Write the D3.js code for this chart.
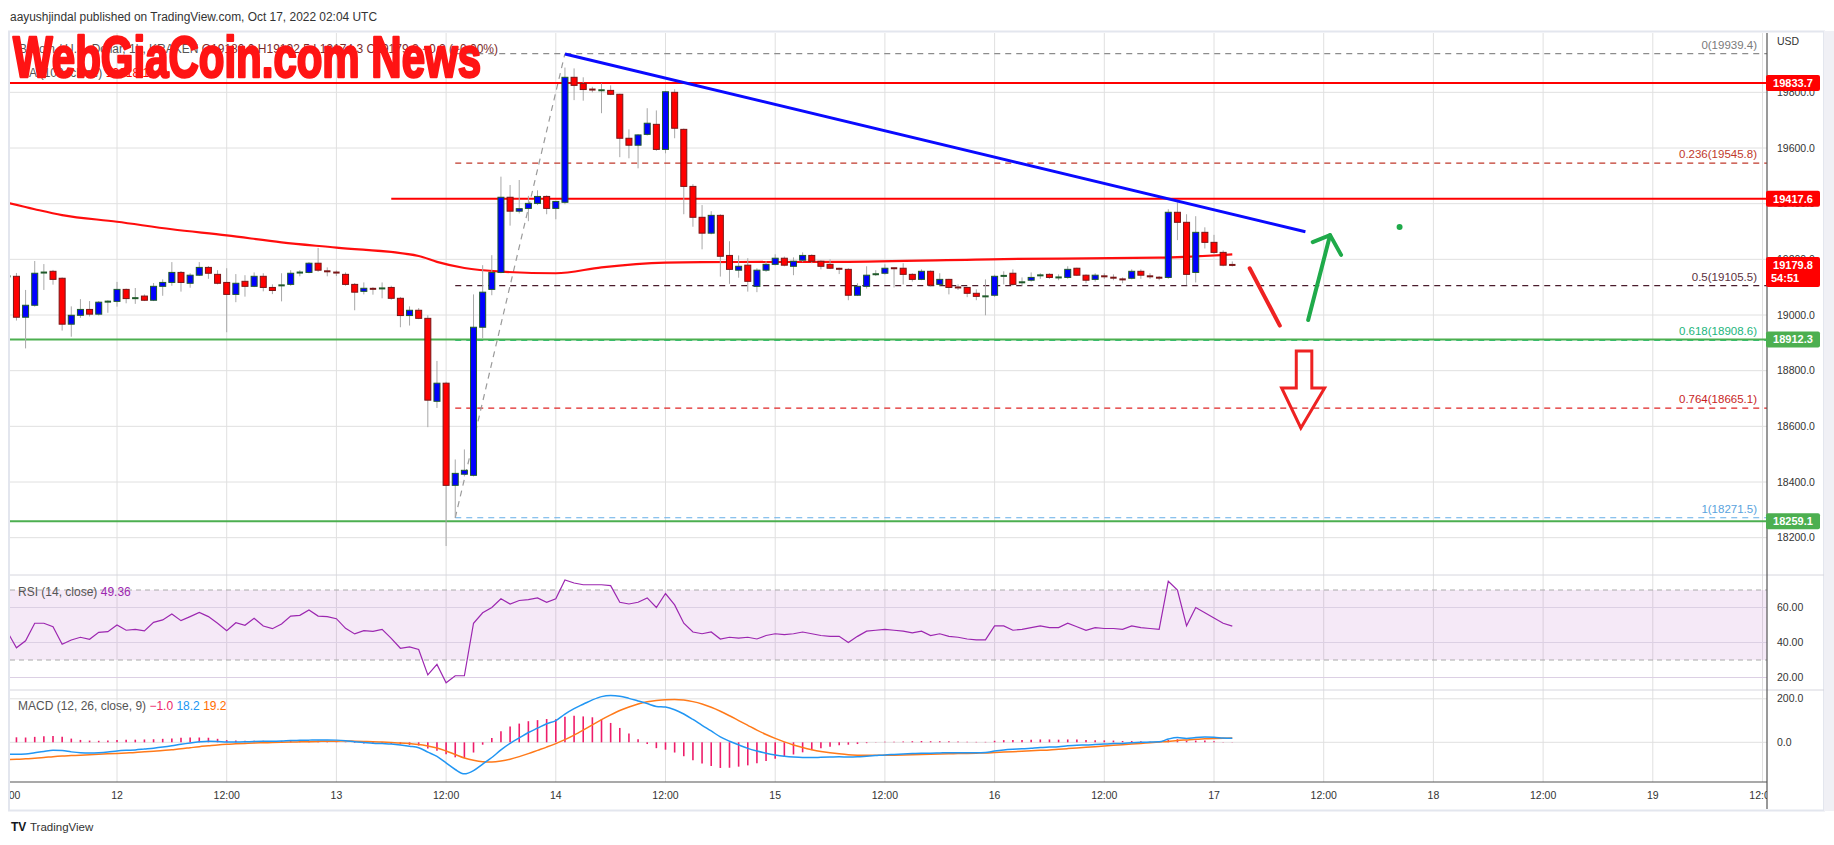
<!DOCTYPE html>
<html><head><meta charset="utf-8">
<script src="https://cdn.jsdelivr.net/npm/d3@7"></script>
<style>
body{margin:0;background:#fff;}
svg{display:block;}
text{font-family:"Liberation Sans",Arial,sans-serif;}
</style>
</head><body>
<svg id="c" width="1834" height="845"></svg>
<script>
// ---------- DATA ----------
const firstHour = -12; // hours relative to Oct 12 00:00 UTC
const opens = [19137,19139,18992,19035,19150,19157,19132,18967,18999,19020,
19003,19046,19049,19092,19059,19068,19053,19103,19117,19153,
19114,19143,19171,19146,19117,19074,19121,19103,19139,19099,
19103,19110,19150,19153,19186,19161,19155,19146,19110,19085,
19096,19092,19099,19060,18998,19017,18988,18690,18755,18388,
18428,18424,18956,19092,19153,19423,19373,19383,19401,19426,
19383,19405,19854,19832,19811,19806,19807,19793,19635,19610,
19649,19685,19595,19800,19667,19462,19351,19294,19358,19214,
19161,19179,19103,19161,19182,19204,19175,19197,19214,19193,
19182,19167,19164,19071,19103,19143,19150,19169,19168,19146,
19128,19157,19110,19128,19100,19099,19078,19066,19071,19139,
19150,19114,19125,19139,19146,19134,19135,19168,19143,19128,
19143,19135,19129,19132,19157,19143,19135,19135,19369,19333,
19153,19297,19261,19225,19180.0];
const highs = [19150,19151,19090,19194,19183,19162,19135,19031,19057,19050,
19050,19053,19119,19095,19097,19074,19115,19128,19190,19158,
19150,19190,19176,19161,19168,19147,19143,19153,19150,19110,
19150,19161,19161,19190,19241,19171,19160,19153,19115,19117,
19100,19117,19105,19065,19031,19025,18999,18835,18760,18481,
18517,19074,19179,19215,19497,19467,19485,19428,19448,19430,
19410,19889,19886,19854,19820,19832,19825,19795,19667,19650,
19743,19735,19805,19811,19670,19470,19395,19373,19362,19265,
19214,19204,19168,19193,19218,19210,19207,19225,19218,19197,
19200,19170,19168,19114,19175,19161,19182,19170,19186,19150,
19164,19160,19150,19130,19110,19102,19092,19128,19145,19157,
19164,19135,19153,19150,19150,19146,19175,19170,19146,19150,
19150,19146,19135,19164,19164,19150,19140,19380,19405,19362,
19355,19315,19288,19232,19192.5];
const lows = [19125,18980,18880,19030,19090,19109,18944,18922,18990,18995,
18998,19008,19030,19042,19040,19050,19050,19069,19105,19084,
19098,19140,19130,19110,18938,19046,19066,19100,19085,19075,
19049,19105,19139,19150,19155,19139,19140,19105,19017,19074,
19073,19060,19055,18956,18962,18985,18597,18666,18170,18272,
18420,18420,18916,19071,19150,19321,19365,19337,19395,19362,
19344,19398,19772,19770,19800,19725,19790,19567,19563,19527,
19645,19590,19581,19635,19362,19317,19236,19290,19138,19112,
19134,19084,19082,19155,19178,19175,19143,19190,19186,19164,
19165,19147,19053,19068,19095,19140,19145,19099,19110,19120,
19125,19102,19105,19074,19090,19064,19053,18999,19065,19110,
19105,19105,19120,19130,19130,19125,19130,19140,19114,19120,
19130,19125,19114,19128,19130,19130,19125,19130,19269,19107,
19117,19239,19220,19175,19174.3];
const closes = [19141,18992,19035,19150,19155,19128,18967,18999,19020,19003,
19046,19050,19092,19059,19062,19053,19103,19117,19153,19117,
19143,19171,19150,19114,19074,19114,19103,19139,19099,19088,
19110,19150,19155,19186,19161,19153,19150,19110,19082,19096,
19092,19099,19060,18998,19017,18988,18694,18755,18388,18431,
18442,18956,19082,19153,19423,19373,19382,19401,19426,19383,
19408,19854,19825,19810,19809,19809,19793,19635,19610,19647,
19689,19595,19802,19671,19462,19351,19294,19358,19211,19164,
19175,19121,19161,19182,19204,19179,19193,19214,19193,19175,
19168,19165,19071,19103,19143,19150,19168,19167,19146,19128,
19157,19107,19128,19099,19098,19078,19067,19068,19139,19142,
19110,19121,19135,19146,19135,19136,19164,19143,19125,19143,
19135,19133,19127,19157,19143,19135,19133,19369,19333,19146,
19297,19261,19225,19179,19179.8];

const maHours  = [-12,-9,-6,0,6,12,18,24,33,35,38,42,48,53,60,64,79,97,114,122];
const maValues = [19403,19380,19359,19335,19308,19286,19261,19242,19212,19191,19169,19156,19150,19171,19188,19190,19191,19201,19206,19218];

const rsiValues = [46.2,37,41,51,51,49,39,41.4,43,41.8,
45.8,46.2,50,47,47.5,46.6,51.5,52.9,56.3,52.5,
54.8,57.2,54.8,51,46.8,51.3,49.8,53.8,49.4,47.9,
50.6,55.1,55.5,58.6,55.1,54.8,53.6,48.1,44.9,46.8,
46.4,47.5,42.4,36.7,37.5,36,21.5,27.5,17,21,
21,51,57,60,65,62,64,64.5,65.5,63,
65,75.7,74,73,73,73,72.5,63,62,63,
65.5,60,68,61.5,51,46,45,46,42,43,
42.5,43,42,44,45,44.5,45,46,45,44,
43.5,43.5,40,43.5,46.5,47,47.5,47,46.5,45.5,
46.5,44,45,43.5,43,42,41.5,41.5,49.5,49.5,
47,47.5,48.5,49.5,48.5,48.5,51,49,47,48.5,
48,48,47.5,49.5,48.5,48,47.5,75,70,49.5,
60,57,54,51,49.36];

const macdValues = [-55,-55,-54,-48,-42,-37,-38,-44,-48,-49,
-48,-45,-40,-37,-35,-31,-27,-22,-16,-9,
-3,2,5,4,1,1,2,4,5,5,
6,8,9,10,11,11,10,7,2,-1,
-4,-6,-8,-12,-18,-25,-45,-65,-95,-125,
-145,-130,-100,-70,-35,-5,20,45,65,85,
100,130,155,175,195,210,215,212,202,190,
178,165,162,150,130,105,78,52,25,5,
-12,-28,-40,-50,-58,-64,-68,-70,-70,-69,
-68,-67,-68,-67,-64,-61,-58,-56,-54,-52,
-50,-50,-49,-48,-48,-48,-48,-47,-40,-35,
-32,-30,-27,-24,-22,-20,-16,-13,-12,-10,
-8,-6,-5,-2,0,1,2,15,22,18,
22,24,23,20,18.2];
const signalValues = [-80,-78,-76,-73,-70,-66,-63,-61,-59,-57,
-55,-53,-51,-49,-47,-44,-41,-38,-34,-30,
-25,-20,-16,-12,-9,-7,-5,-3,-2,-1,
0,1,2,3,4,5,5,6,5,4,
3,1,-1,-3,-6,-10,-17,-26,-40,-56,
-72,-83,-89,-90,-86,-78,-66,-52,-37,-22,
-6,12,33,56,80,104,126,146,162,176,
186,192,196,197,194,187,176,161,143,122,
100,78,56,36,18,2,-12,-24,-34,-42,
-48,-53,-57,-59,-60,-60,-60,-59,-58,-57,
-56,-55,-54,-53,-52,-51,-50,-49,-47,-45,
-43,-41,-39,-37,-35,-32,-29,-26,-23,-20,
-17,-14,-11,-8,-5,-2,1,4,8,11,
14,16,18,19,19.2];

const priceTicks = [18200,18400,18600,18800,19000,19200,19400,19600,19800];
const rsiTicks = [20,40,60];
const macdTicks = [0,200];
const timeTickHours  = [-12,0,12,24,36,48,60,72,84,96,108,120,132,144,156,168,180];
const timeTickLabels = ["12:00","12","12:00","13","12:00","14","12:00","15","12:00","16","12:00","17","12:00","18","12:00","19","12:00"];

const levelPrices = [19833.7,19417.6,18912.3,18259.1];
const levelStartHours = [-13,30,-13,-13];
const levelColors = ["#ff0000","#ff0000","#4caf50","#4caf50"];

const fibRatios = ["0","0.236","0.5","0.618","0.764","1"];
const fibPrices = [19939.4,19545.8,19105.5,18908.6,18665.1,18271.5];
const fibColors = ["#8c8c8c","#c0392b","#4a1c2c","#26c98a","#e02424","#64aee8"];
const fibLabelColors = ["#7a7a7a","#c0392b","#5a3040","#22b57c","#c81e1e","#5aa3dd"];
const fibStartHour = 37;
const fibDiagHours = [37,49];
const fibDiagPrices = [18271.5,19939.4];

const trendHours = [49,130];
const trendPrices = [19938,19299];

const redStrokeHours = [123.9,127.2], redStrokePrices = [19168,18962];
const greenShaftHours = [130.3,132.7], greenShaftPrices = [18982,19287];
const greenHeadHours = [130.8,132.7,133.9], greenHeadPrices = [19262,19287,19216];
const dotHour = 140.3, dotPrice = 19316;
const hollowHours  = [129,130.7,130.7,132.1,129.5,127.4,129];
const hollowPrices = [18871,18871,18738,18738,18594,18738,18738];

const lastPrice = 19179.8;

// ---------- LAYOUT ----------
const L = 10, R = 1767;
const paneTop = 33, paneBot = 575, rsiBot = 690, macdBot = 782;

const svg = d3.select("#c");
const x = d3.scaleLinear().domain([0,120]).range([117,1214]);
const y = d3.scaleLinear().domain([19000,19600]).range([315,148]);
const ry = d3.scaleLinear().domain([30,70]).range([660,590]);
const my = d3.scaleLinear().domain([0,200]).range([742.3,698.8]);

const defs = svg.append("defs");
function clip(id,x0,y0,w,h){defs.append("clipPath").attr("id",id).append("rect").attr("x",x0).attr("y",y0).attr("width",w).attr("height",h);}
clip("cp",L,paneTop,R-L,paneBot-paneTop);
clip("cr",L,paneBot,R-L,rsiBot-paneBot);
clip("cm",L,rsiBot,R-L,macdBot-rsiBot);
clip("ca",L,macdBot,R-L,30);

// header
svg.append("text").attr("x",10).attr("y",21).attr("font-size",12.5).attr("fill","#333")
  .attr("font-family","Open Sans, Liberation Sans, sans-serif")
  .attr("textLength",367).attr("lengthAdjust","spacingAndGlyphs")
  .text("aayushjindal published on TradingView.com, Oct 17, 2022 02:04 UTC");

// frame
svg.append("rect").attr("x",9).attr("y",31.5).attr("width",1815).attr("height",779).attr("fill","#fff").attr("stroke","#e3e6ee").attr("stroke-width",2);
svg.append("rect").attr("x",1824).attr("y",31).attr("width",10).attr("height",780).attr("fill","#f0f0f5");

const hours = d3.range(opens.length).map(i=>firstHour+i);

// vertical grid
const vg = svg.append("g");
timeTickHours.forEach(h=>{
  const xx = x(h);
  if(xx>L && xx<R) vg.append("line").attr("x1",xx).attr("x2",xx).attr("y1",paneTop).attr("y2",macdBot).attr("stroke","#e0e0e0");
});
// horizontal grids
priceTicks.forEach(p=>svg.append("line").attr("x1",L).attr("x2",R).attr("y1",y(p)).attr("y2",y(p)).attr("stroke","#e0e0e0"));
// pane separators
[paneBot,rsiBot].forEach(v=>svg.append("line").attr("x1",L).attr("x2",1824).attr("y1",v).attr("y2",v).attr("stroke","#d6d6de"));

// ---------- PRICE PANE ----------
const gp = svg.append("g").attr("clip-path","url(#cp)");

// fib lines
fibPrices.forEach((p,i)=>{
  gp.append("line").attr("x1",x(fibStartHour)).attr("x2",R).attr("y1",y(p)).attr("y2",y(p))
    .attr("stroke",fibColors[i]).attr("stroke-width",1.2).attr("stroke-dasharray","6,5");
  gp.append("text").attr("x",1757).attr("y",y(p)-5).attr("text-anchor","end").attr("font-size",11.5)
    .attr("fill",fibLabelColors[i]).text(fibRatios[i]+"("+fibPrices[i].toFixed(1)+")");
});
gp.append("line").attr("x1",x(fibDiagHours[0])).attr("y1",y(fibDiagPrices[0])).attr("x2",x(fibDiagHours[1])).attr("y2",y(fibDiagPrices[1]))
  .attr("stroke","#9a9a9a").attr("stroke-width",1.2).attr("stroke-dasharray","6,5");

// horizontal levels
levelPrices.forEach((p,i)=>{
  gp.append("line").attr("x1",x(levelStartHours[i])).attr("x2",R).attr("y1",y(p)).attr("y2",y(p))
    .attr("stroke",levelColors[i]).attr("stroke-width",2);
});

// MA
gp.append("path").datum(maHours.map((h,i)=>[h,maValues[i]]))
  .attr("d",d3.line().x(d=>x(d[0])).y(d=>y(d[1])).curve(d3.curveMonotoneX))
  .attr("fill","none").attr("stroke","#ff0000").attr("stroke-width",2.2).attr("opacity",0.95);

// candles
const cg = gp.append("g");
hours.forEach((h,i)=>{
  const o=opens[i],c=closes[i],hi=highs[i],lo=lows[i];
  const up = c>=o;
  const xx = x(h);
  cg.append("line").attr("x1",xx).attr("x2",xx).attr("y1",y(hi)).attr("y2",y(lo)).attr("stroke","#a8a8a8").attr("stroke-width",1);
  const top = y(Math.max(o,c)), bot = y(Math.min(o,c));
  const hgt = bot-top;
  if(hgt<2.5){
    cg.append("rect").attr("x",xx-3.2).attr("y",(top+bot)/2-1).attr("width",6.4).attr("height",2)
      .attr("fill",up?"#1f5a2a":"#7a1515");
  } else {
    cg.append("rect").attr("x",xx-3).attr("y",top).attr("width",6).attr("height",hgt)
      .attr("fill",up?"#0000ff":"#ff0000").attr("stroke",up?"#1f5a2a":"#7a1515").attr("stroke-width",1);
  }
});

// trend line
gp.append("line").attr("x1",x(trendHours[0])).attr("y1",y(trendPrices[0])).attr("x2",x(trendHours[1])).attr("y2",y(trendPrices[1]))
  .attr("stroke","#0a0aff").attr("stroke-width",3);

// drawings
const ln = d3.line().x(d=>x(d[0])).y(d=>y(d[1]));
gp.append("path").datum(redStrokeHours.map((h,i)=>[h,redStrokePrices[i]])).attr("d",ln)
  .attr("stroke","#ee2222").attr("stroke-width",4).attr("stroke-linecap","round").attr("fill","none");
gp.append("path").datum(greenShaftHours.map((h,i)=>[h,greenShaftPrices[i]])).attr("d",ln)
  .attr("stroke","#1faa4a").attr("stroke-width",4).attr("stroke-linecap","round").attr("fill","none");
gp.append("path").datum(greenHeadHours.map((h,i)=>[h,greenHeadPrices[i]])).attr("d",ln)
  .attr("stroke","#1faa4a").attr("stroke-width",4).attr("stroke-linecap","round").attr("stroke-linejoin","round").attr("fill","none");
gp.append("circle").attr("cx",x(dotHour)).attr("cy",y(dotPrice)).attr("r",3).attr("fill","#1faa4a");
gp.append("path").datum(hollowHours.map((h,i)=>[h,hollowPrices[i]])).attr("d",d=>ln(d)+"Z")
  .attr("stroke","#ee2222").attr("stroke-width",3).attr("fill","none").attr("stroke-linejoin","miter");

// legend
const lg = svg.append("text").attr("x",19).attr("y",53).attr("font-size",12);
lg.append("tspan").attr("fill","#555").text("Bitcoin / U.S. Dollar, 1h, KRAKEN  ");
lg.append("tspan").attr("fill","#7a2b2b").text("O19180.0  H19192.5  L19174.3  C19179.8  −0.2 (−0.00%)");
const lg2 = svg.append("text").attr("x",19).attr("y",77).attr("font-size",12);
lg2.append("tspan").attr("fill","#555").text("MA (100, close)  ");
lg2.append("tspan").attr("fill","#ff0000").text("19218.1");

// watermark
svg.append("text").attr("x",13).attr("y",77).attr("font-size",58).attr("font-weight","bold")
  .attr("font-family","Liberation Sans Narrow, DejaVu Sans Condensed, sans-serif")
  .attr("fill","#ff1414").attr("stroke","#ff1414").attr("stroke-width",2.6).attr("stroke-linejoin","round")
  .attr("textLength",468).attr("lengthAdjust","spacingAndGlyphs")
  .text("WebGiaCoin.com News");

// ---------- RSI PANE ----------
const gr = svg.append("g").attr("clip-path","url(#cr)");
gr.append("rect").attr("x",L).attr("width",R-L).attr("y",ry(70)).attr("height",ry(30)-ry(70)).attr("fill","#9c27b0").attr("opacity",0.1);
rsiTicks.forEach(v=>gr.append("line").attr("x1",L).attr("x2",R).attr("y1",ry(v)).attr("y2",ry(v)).attr("stroke","#dcd0e4"));
[70,30].forEach(v=>gr.append("line").attr("x1",L).attr("x2",R).attr("y1",ry(v)).attr("y2",ry(v)).attr("stroke","#aaa").attr("stroke-dasharray","5,4"));
gr.append("path").datum(rsiValues.map((v,i)=>[hours[i],v]))
  .attr("d",d3.line().x(d=>x(d[0])).y(d=>ry(d[1]))).attr("fill","none").attr("stroke","#9c27b0").attr("stroke-width",1.2);
const rl = svg.append("text").attr("x",18).attr("y",596).attr("font-size",12);
rl.append("tspan").attr("fill","#555").text("RSI (14, close)  ");
rl.append("tspan").attr("fill","#9c27b0").text("49.36");

// ---------- MACD PANE ----------
const gm = svg.append("g").attr("clip-path","url(#cm)");
macdTicks.forEach(v=>gm.append("line").attr("x1",L).attr("x2",R).attr("y1",my(v)).attr("y2",my(v)).attr("stroke","#e0e0e0"));
hours.forEach((h,i)=>{
  const d = macdValues[i]-signalValues[i];
  gm.append("line").attr("x1",x(h)).attr("x2",x(h)).attr("y1",my(0)).attr("y2",my(d)).attr("stroke","#ee1d6a").attr("stroke-width",1.6);
});
gm.append("path").datum(signalValues.map((v,i)=>[hours[i],v]))
  .attr("d",d3.line().x(d=>x(d[0])).y(d=>my(d[1])).curve(d3.curveMonotoneX)).attr("fill","none").attr("stroke","#ff7a1a").attr("stroke-width",1.5);
gm.append("path").datum(macdValues.map((v,i)=>[hours[i],v]))
  .attr("d",d3.line().x(d=>x(d[0])).y(d=>my(d[1])).curve(d3.curveMonotoneX)).attr("fill","none").attr("stroke","#2196f3").attr("stroke-width",1.5);
const ml = svg.append("text").attr("x",18).attr("y",710).attr("font-size",12);
ml.append("tspan").attr("fill","#555").text("MACD (12, 26, close, 9)  ");
ml.append("tspan").attr("fill","#ee1d6a").text("−1.0  ");
ml.append("tspan").attr("fill","#2196f3").text("18.2  ");
ml.append("tspan").attr("fill","#ff6d00").text("19.2");

// ---------- AXES ----------
svg.append("line").attr("x1",R).attr("x2",R).attr("y1",paneTop).attr("y2",809).attr("stroke","#555").attr("stroke-width",1.2);
svg.append("line").attr("x1",L).attr("x2",R).attr("y1",macdBot).attr("y2",macdBot).attr("stroke","#555").attr("stroke-width",1.2);

function atext(xx,yy,t){return svg.append("text").attr("x",xx).attr("y",yy).attr("dy","0.35em").attr("font-size",10.5).attr("fill","#333").text(t);}
atext(1777,41,"USD");
priceTicks.forEach(p=>atext(1777,y(p),p.toFixed(1)));
rsiTicks.forEach(v=>atext(1777,ry(v),v.toFixed(2)));
macdTicks.forEach(v=>atext(1777,my(v),v.toFixed(1)));

const ta = svg.append("g").attr("clip-path","url(#ca)");
timeTickHours.forEach((h,i)=>{
  ta.append("text").attr("x",x(h)).attr("y",799).attr("text-anchor","middle").attr("font-size",10.5).attr("fill","#333").text(timeTickLabels[i]);
});

// price boxes
function box(p,col,extra){
  const yy = y(p);
  const hgt = extra?30:16;
  svg.append("rect").attr("x",1766).attr("y",yy-8).attr("width",54).attr("height",hgt).attr("rx",2).attr("fill",col);
  svg.append("text").attr("x",1793).attr("y",yy).attr("dy","0.35em").attr("text-anchor","middle").attr("font-size",11).attr("font-weight","bold").attr("fill","#fff").text(p.toFixed(1));
  if(extra) svg.append("text").attr("x",1771).attr("y",yy+13).attr("dy","0.35em").attr("font-size",11).attr("font-weight","bold").attr("fill","#fff").text(extra);
}
box(levelPrices[0],"#ff0000");
box(levelPrices[1],"#ff0000");
box(lastPrice,"#ff0000","54:51");
box(levelPrices[2],"#4caf50");
box(levelPrices[3],"#4caf50");

// footer logo
svg.append("text").attr("x",11).attr("y",831).attr("font-size",12).attr("font-weight","bold").attr("fill","#131722").text("TV");
svg.append("text").attr("x",30).attr("y",831).attr("font-size",11.5).attr("fill","#333").text("TradingView");
</script>
</body></html>
